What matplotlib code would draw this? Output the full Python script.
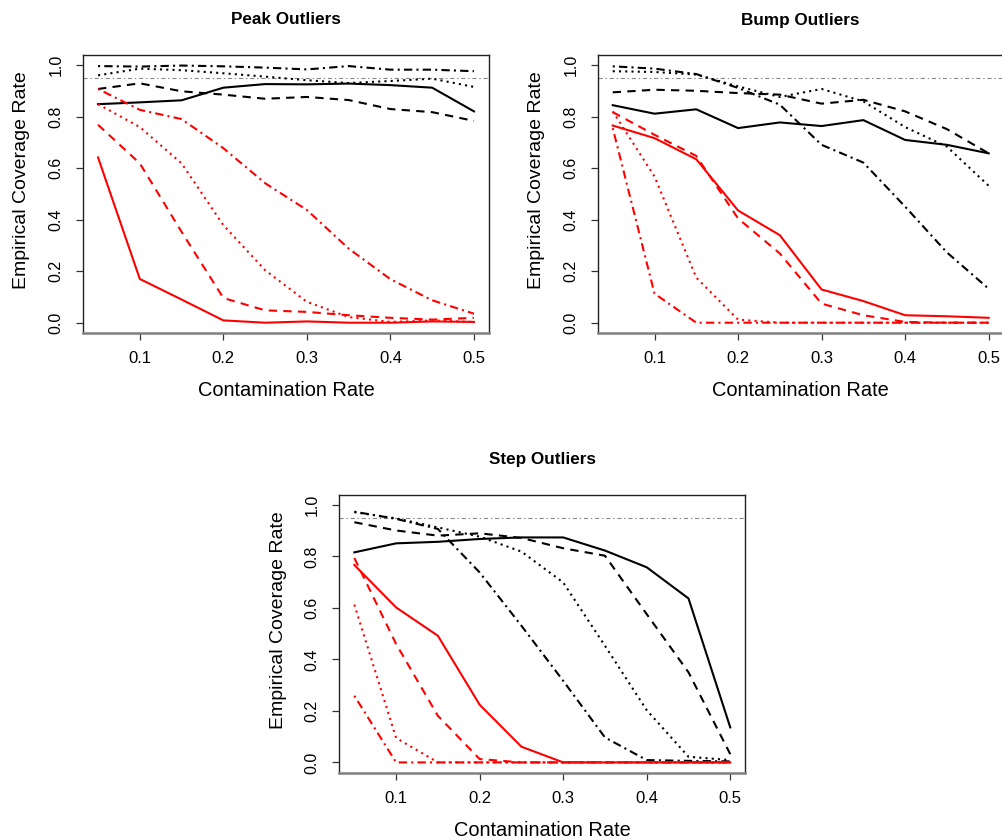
import numpy as np
import matplotlib
matplotlib.use("Agg")
import matplotlib.pyplot as plt

plt.rcParams['font.family'] = ['Liberation Sans', 'DejaVu Sans']
plt.rcParams['lines.scale_dashes'] = False

contamination = [0.05, 0.10, 0.15, 0.20, 0.25, 0.30, 0.35, 0.40, 0.45, 0.50]

# Peak outliers
peak_black_solid = [0.849, 0.856, 0.864, 0.913, 0.927, 0.926, 0.929, 0.923, 0.913, 0.821]
peak_black_dashed = [0.908, 0.930, 0.899, 0.886, 0.870, 0.877, 0.865, 0.830, 0.818, 0.784]
peak_black_dotted = [0.961, 0.987, 0.981, 0.969, 0.956, 0.942, 0.931, 0.939, 0.948, 0.916]
peak_black_dotdash = [0.997, 0.995, 0.999, 0.996, 0.991, 0.984, 0.997, 0.983, 0.983, 0.977]
peak_red_solid = [0.642, 0.170, 0.090, 0.009, 0.000, 0.005, 0.000, 0.000, 0.005, 0.003]
peak_red_dashed = [0.769, 0.619, 0.353, 0.096, 0.048, 0.042, 0.029, 0.019, 0.012, 0.019]
peak_red_dotted = [0.849, 0.760, 0.619, 0.379, 0.204, 0.081, 0.022, 0.003, 0.009, 0.003]
peak_red_dotdash = [0.908, 0.827, 0.791, 0.678, 0.542, 0.438, 0.288, 0.169, 0.087, 0.035]

# Bump outliers
bump_black_solid = [0.845, 0.812, 0.829, 0.756, 0.778, 0.764, 0.787, 0.710, 0.691, 0.658]
bump_black_dashed = [0.895, 0.905, 0.901, 0.892, 0.886, 0.851, 0.866, 0.821, 0.752, 0.658]
bump_black_dotted = [0.977, 0.974, 0.964, 0.918, 0.877, 0.908, 0.860, 0.760, 0.684, 0.532]
bump_black_dotdash = [0.996, 0.987, 0.966, 0.912, 0.847, 0.691, 0.622, 0.451, 0.273, 0.132]
bump_red_solid = [0.766, 0.717, 0.635, 0.436, 0.340, 0.129, 0.084, 0.029, 0.025, 0.019]
bump_red_dashed = [0.818, 0.730, 0.648, 0.405, 0.269, 0.074, 0.029, 0.003, 0.000, 0.000]
bump_red_dotted = [0.821, 0.568, 0.175, 0.012, 0.000, 0.000, 0.000, 0.000, 0.000, 0.000]
bump_red_dotdash = [0.756, 0.113, 0.000, 0.000, 0.000, 0.000, 0.000, 0.000, 0.000, 0.000]

# Step outliers
step_black_solid = [0.816, 0.851, 0.857, 0.868, 0.874, 0.874, 0.823, 0.758, 0.637, 0.136]
step_black_dashed = [0.933, 0.901, 0.881, 0.890, 0.872, 0.832, 0.803, 0.576, 0.350, 0.032]
step_black_dotted = [0.972, 0.948, 0.913, 0.877, 0.819, 0.699, 0.453, 0.203, 0.022, 0.009]
step_black_dotdash = [0.974, 0.946, 0.907, 0.738, 0.531, 0.317, 0.097, 0.009, 0.006, 0.004]
step_red_solid = [0.767, 0.602, 0.492, 0.224, 0.061, 0.000, 0.000, 0.000, 0.000, 0.000]
step_red_dashed = [0.794, 0.460, 0.181, 0.013, 0.000, 0.000, 0.000, 0.000, 0.000, 0.000]
step_red_dotted = [0.613, 0.095, 0.000, 0.000, 0.000, 0.000, 0.000, 0.000, 0.000, 0.000]
step_red_dotdash = [0.259, 0.000, 0.000, 0.000, 0.000, 0.000, 0.000, 0.000, 0.000, 0.000]

nominal = 0.95

panels = [
    ("Peak Outliers", [peak_black_solid, peak_black_dashed, peak_black_dotted, peak_black_dotdash],
     [peak_red_solid, peak_red_dashed, peak_red_dotted, peak_red_dotdash]),
    ("Bump Outliers", [bump_black_solid, bump_black_dashed, bump_black_dotted, bump_black_dotdash],
     [bump_red_solid, bump_red_dashed, bump_red_dotted, bump_red_dotdash]),
    ("Step Outliers", [step_black_solid, step_black_dashed, step_black_dotted, step_black_dotdash],
     [step_red_solid, step_red_dashed, step_red_dotted, step_red_dotdash]),
]

# R-like line types (in points)
ltys = ['-', (0, (6, 4.5)), (0, (1.5, 3)), (0, (1.5, 3, 6, 3))]

W, H = 1003, 840
boxes = [(83, 55), (597.7, 55), (339.3, 494.7)]   # left, top in pixels
aw, ah = 406, 278

fig = plt.figure(figsize=(W / 100, H / 100), dpi=100)

for (title, blacks, reds), (lx, ty) in zip(panels, boxes):
    ax = fig.add_axes([lx / W, 1 - (ty + ah) / H, aw / W, ah / H])
    ax.axhline(nominal, color='#888888', lw=0.8, ls=(0, (3, 2, 1, 2)))
    for ys, ls in zip(blacks, ltys):
        ax.plot(contamination, ys, color='black', lw=1.5, ls=ls)
    for ys, ls in zip(reds, ltys):
        ax.plot(contamination, ys, color='#ff0000', lw=1.5, ls=ls)

    ax.set_xlim(0.032, 0.518)
    ax.set_ylim(-0.04, 1.04)
    ax.set_xticks([0.1, 0.2, 0.3, 0.4, 0.5])
    ax.set_xticklabels(['0.1', '0.2', '0.3', '0.4', '0.5'], fontsize=12, va='center')
    ax.set_yticks([0.0, 0.2, 0.4, 0.6, 0.8, 1.0])
    ax.set_yticklabels(['0.0', '0.2', '0.4', '0.6', '0.8', '1.0'], fontsize=11.5,
                       rotation=90, ha='center', va='center')
    ax.tick_params(axis='both', direction='out', length=5, width=0.9, color='#333333')
    ax.tick_params(axis='x', pad=13.7)
    ax.tick_params(axis='y', pad=14.4)
    for s in ['left', 'right', 'top']:
        ax.spines[s].set_linewidth(1.0)
        ax.spines[s].set_color('#222222')
    ax.spines['bottom'].set_linewidth(1.8)
    ax.spines['bottom'].set_color('#808080')

    ax.annotate(title, (0.5, 1), xycoords='axes fraction', xytext=(0, 35),
                textcoords='offset pixels', ha='center', va='center',
                fontsize=12.3, fontweight='bold')
    ax.annotate('Contamination Rate', (0.5, 0), xycoords='axes fraction', xytext=(0, -58),
                textcoords='offset pixels', ha='center', va='center', fontsize=14.4)
    ax.annotate('Empirical Coverage Rate', (0, 0.5), xycoords='axes fraction', xytext=(-61, 14),
                textcoords='offset pixels', ha='center', va='center', fontsize=14, rotation=90)

plt.savefig('out.png', dpi=100)
